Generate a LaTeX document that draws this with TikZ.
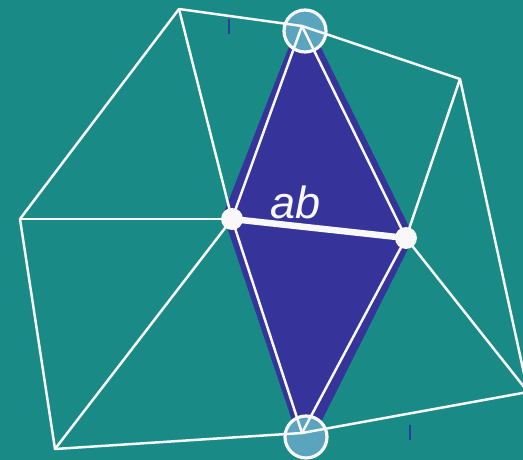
\documentclass[tikz,border=0pt]{standalone}
\usepackage{fontspec}
\setmainfont{Liberation Sans}
\definecolor{bgteal}{HTML}{1A8A87}
\definecolor{diamondpurple}{HTML}{36349A}
\definecolor{circblue}{HTML}{5BA4BD}
\definecolor{linewhite}{HTML}{F8F8F8}
\definecolor{tickblue}{HTML}{2A3F9A}
\begin{document}
\begin{tikzpicture}[x=1pt,y=-1pt,
  edge/.style={draw=linewhite, line width=2.5pt, line cap=round},
  mainedge/.style={draw=linewhite, line width=6.5pt},
  vcirc/.style={circle, draw=linewhite, fill=circblue, line width=3.2pt, minimum size=42pt, inner sep=0pt},
  vdot/.style={circle, fill=linewhite, minimum size=22pt, inner sep=0pt},
  lbl/.style={text=linewhite, font=\fontsize{45}{45}\selectfont\itshape, inner sep=0pt},
  tickmark/.style={draw=tickblue, line width=1.5pt}]
\fill[bgteal] (0,0) rectangle (523,460);
\useasboundingbox (0,0) rectangle (523,460);
\begin{scope}
\clip (0,0) rectangle (523,460);
% vertices
\coordinate (A) at (179,9);
\coordinate (T) at (302,26);
\coordinate (R) at (460,79);
\coordinate (L) at (20,219);
\coordinate (BL) at (55,449);
\coordinate (Bt) at (302,433);
\coordinate (BR) at (528,392);
\coordinate (a) at (232,219);
\coordinate (b) at (406,238);
% purple diamond
\fill[diamondpurple] (303,11) -- (223,215) -- (304,456) -- (414,237) -- cycle;
% circles
\node[vcirc] (TC) at (305,31) {};
\node[vcirc] (BC) at (306,437) {};
% edges
\draw[edge] (A) -- (T) -- (R);
\draw[edge] (A) -- (L);
\draw[edge] (A) -- (a);
\draw[edge] (L) -- (a);
\draw[edge] (L) -- (BL);
\draw[edge] (a) -- (BL);
\draw[edge] (BL) -- (Bt) -- (BR);
\draw[edge] (T) -- (a);
\draw[edge] (T) -- (b);
\draw[edge] (a) -- (Bt);
\draw[edge] (b) -- (Bt);
\draw[edge] (b) -- (R);
\draw[edge] (b) -- (BR);
\draw[edge] (R) -- (BR);
\draw[mainedge] (a) -- (b);
% dots
\node[vdot] (da) at (a) {};
\node[vdot] (db) at (b) {};
% label
\node[lbl] (lab) at (296,202) {ab};
% tick marks
\coordinate (t1a) at (229,19);
\coordinate (t1b) at (229,34);
\coordinate (t2a) at (410,425);
\coordinate (t2b) at (410,440);
\draw[tickmark] (t1a) -- (t1b);
\draw[tickmark] (t2a) -- (t2b);
\end{scope}
\end{tikzpicture}
\end{document}
